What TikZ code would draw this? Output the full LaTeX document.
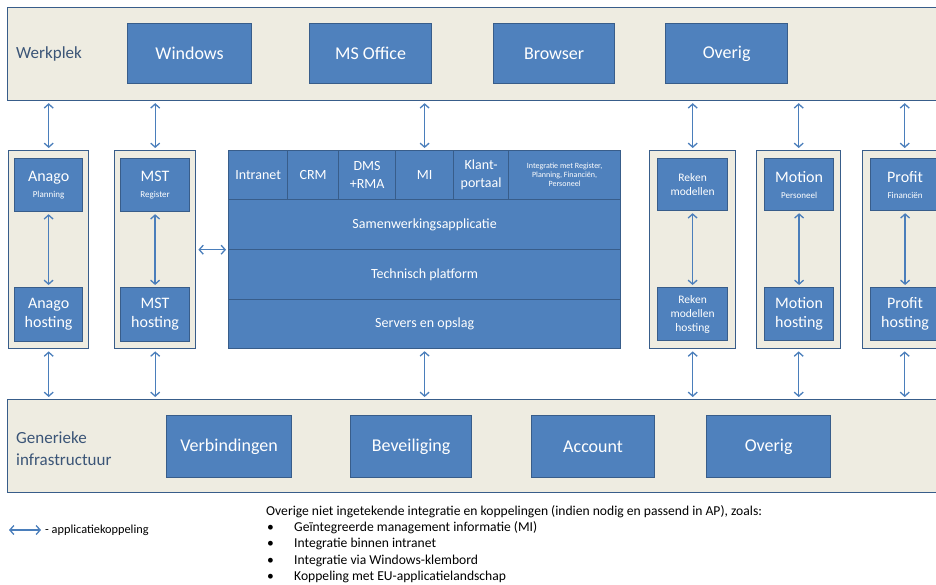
\documentclass[tikz,border=0pt]{standalone}
\usepackage{fontspec}
\setmainfont{Carlito}
\usetikzlibrary{arrows.meta}
\definecolor{boxfill}{HTML}{4F81BD}
\definecolor{boxline}{HTML}{385D8A}
\definecolor{barfill}{HTML}{EEECE1}
\definecolor{linkblue}{HTML}{4A7EBB}
\definecolor{bartext}{HTML}{3B5577}
\newcommand{\subtxt}[1]{{\fontsize{9}{10}\selectfont #1}}
\tikzset{>={Straight Barb[length=4pt,width=9pt]}}

\begin{document}
\begin{tikzpicture}[x=1pt,y=-1pt,
  bar/.style={draw=boxline,fill=barfill,line width=1.2pt,anchor=north west,inner sep=0pt,minimum width=935,minimum height=93},
  col/.style={draw=boxline,fill=barfill,line width=1.4pt,anchor=north west,inner sep=0pt,minimum height=198},
  app/.style={draw=boxline,fill=boxfill,line width=1.2pt,anchor=north west,inner sep=0pt,text=white,align=center,font=\fontsize{18}{20}\selectfont},
  sub/.style={app,font=\fontsize{16}{19}\selectfont},
  cell/.style={app,font=\fontsize{14}{18}\selectfont},
  lbl/.style={text=bartext,anchor=west,align=left,inner sep=0pt,font=\fontsize{17}{22}\selectfont},
  link/.style={<->,draw=linkblue,line width=1.3pt,shorten <=2pt,shorten >=2pt}]
\useasboundingbox (0,0) rectangle (936,584);
\clip (0,0) rectangle (936,584);

\node[bar] (werkplek) at (7,7) {};
\node[lbl] (werkplektxt) at (16,54) {Werkplek};
\node[app,minimum width=124,minimum height=60] (windows) at (127,23) {Windows};
\node[app,minimum width=122,minimum height=60] (office) at (309,23) {MS Office};
\node[app,minimum width=121,minimum height=60] (browser) at (493,23) {Browser};
\node[app,minimum width=122,minimum height=60] (overigw) at (665,23) {Overig};

\node[col,minimum width=80] (anagocol) at (8,150) {};
\node[sub,minimum width=68,minimum height=53] (anago) at (14,158) {Anago\\[-3pt]\subtxt{Planning}};
\node[sub,minimum width=68,minimum height=54] (anagohost) at (14,287) {Anago\\hosting};
\node[col,minimum width=81] (mstcol) at (114,150) {};
\node[sub,minimum width=69,minimum height=53] (mst) at (120,158) {MST\\[-3pt]\subtxt{Register}};
\node[sub,minimum width=69,minimum height=54] (msthost) at (120,287) {MST\\hosting};

\node[cell,minimum width=59,minimum height=49] (intranet) at (228,150) {Intranet};
\node[cell,minimum width=51,minimum height=49] (crm) at (287,150) {CRM};
\node[cell,minimum width=57,minimum height=49] (dms) at (338,150) {DMS\\+RMA};
\node[cell,minimum width=58,minimum height=49] (mi) at (395,150) {MI};
\node[cell,minimum width=55,minimum height=49] (klant) at (453,150) {Klant-\\portaal};
\node[cell,minimum width=112,minimum height=49,font=\fontsize{8}{9}\selectfont] (integratie) at (508,150) {Integratie met Register,\\Planning, Financiën,\\Personeel};
\node[cell,minimum width=392,minimum height=50] (samen) at (228,199) {Samenwerkingsapplicatie};
\node[cell,minimum width=392,minimum height=50] (tech) at (228,249) {Technisch platform};
\node[cell,minimum width=392,minimum height=49] (servers) at (228,299) {Servers en opslag};

\node[col,minimum width=86] (rekencol) at (649,150) {};
\node[sub,minimum width=70,minimum height=52,font=\fontsize{11.5}{14}\selectfont] (reken) at (657,158) {Reken\\modellen};
\node[sub,minimum width=70,minimum height=53,font=\fontsize{11.5}{14}\selectfont] (rekenhost) at (657,287) {Reken\\modellen\\hosting};
\node[col,minimum width=84] (motioncol) at (756,150) {};
\node[sub,minimum width=69,minimum height=52] (motion) at (764,158) {Motion\\[-3pt]\subtxt{Personeel}};
\node[sub,minimum width=69,minimum height=53] (motionhost) at (764,287) {Motion\\hosting};
\node[col,minimum width=84] (profitcol) at (862,150) {};
\node[sub,minimum width=69,minimum height=52] (profit) at (870,158) {Profit\\[-3pt]\subtxt{Financiën}};
\node[sub,minimum width=69,minimum height=53] (profithost) at (870,287) {Profit\\hosting};

\node[bar] (infra) at (7,399) {};
\node[lbl] (infratxt) at (16,449) {Generieke\\infrastructuur};
\node[app,minimum width=125,minimum height=62] (verbindingen) at (166,415) {Verbindingen};
\node[app,minimum width=121,minimum height=62] (beveiliging) at (350,415) {Beveiliging};
\node[app,minimum width=123,minimum height=62] (account) at (531,415) {Account};
\node[app,minimum width=124,minimum height=62] (overigi) at (706,415) {Overig};

\draw[link] (anagocol.north) -- (anagocol.north |- werkplek.south);
\draw[link] (mstcol.north) -- (mstcol.north |- werkplek.south);
\draw[link] (mi.north) -- (mi.north |- werkplek.south);
\draw[link] (rekencol.north) -- (rekencol.north |- werkplek.south);
\draw[link] (motioncol.north) -- (motioncol.north |- werkplek.south);
\draw[link] (profitcol.north) -- (profitcol.north |- werkplek.south);
\draw[link] (anagocol.south) -- (anagocol.south |- infra.north);
\draw[link] (mstcol.south) -- (mstcol.south |- infra.north);
\draw[link] (servers.south) -- (servers.south |- infra.north);
\draw[link] (rekencol.south) -- (rekencol.south |- infra.north);
\draw[link] (motioncol.south) -- (motioncol.south |- infra.north);
\draw[link] (profitcol.south) -- (profitcol.south |- infra.north);
\draw[link] (anago) -- (anagohost);
\draw[link] (mst) -- (msthost);
\draw[link] (reken) -- (rekenhost);
\draw[link] (motion) -- (motionhost);
\draw[link] (profit) -- (profithost);
\draw[link] (mstcol.east) -- (mstcol.east -| tech.west);

\coordinate (leg1) at (7,530);
\coordinate (leg2) at (43,530);
\draw[link] (leg1) -- (leg2);
\node[anchor=west,inner sep=0pt,font=\fontsize{12.3}{14}\selectfont] (legtxt) at (45,530) {- applicatiekoppeling};
\node[anchor=north west,align=left,inner sep=0pt,font=\fontsize{13.6}{16.3}\selectfont] (note) at (266,505)
  {Overige niet ingetekende integratie en koppelingen (indien nodig en passend in AP), zoals:\\
   \hspace*{1pt}\makebox[27pt][l]{\textbullet}Geïntegreerde management informatie (MI)\\
   \hspace*{1pt}\makebox[27pt][l]{\textbullet}Integratie binnen intranet\\
   \hspace*{1pt}\makebox[27pt][l]{\textbullet}Integratie via Windows-klembord\\
   \hspace*{1pt}\makebox[27pt][l]{\textbullet}Koppeling met EU-applicatielandschap};
\end{tikzpicture}
\end{document}
